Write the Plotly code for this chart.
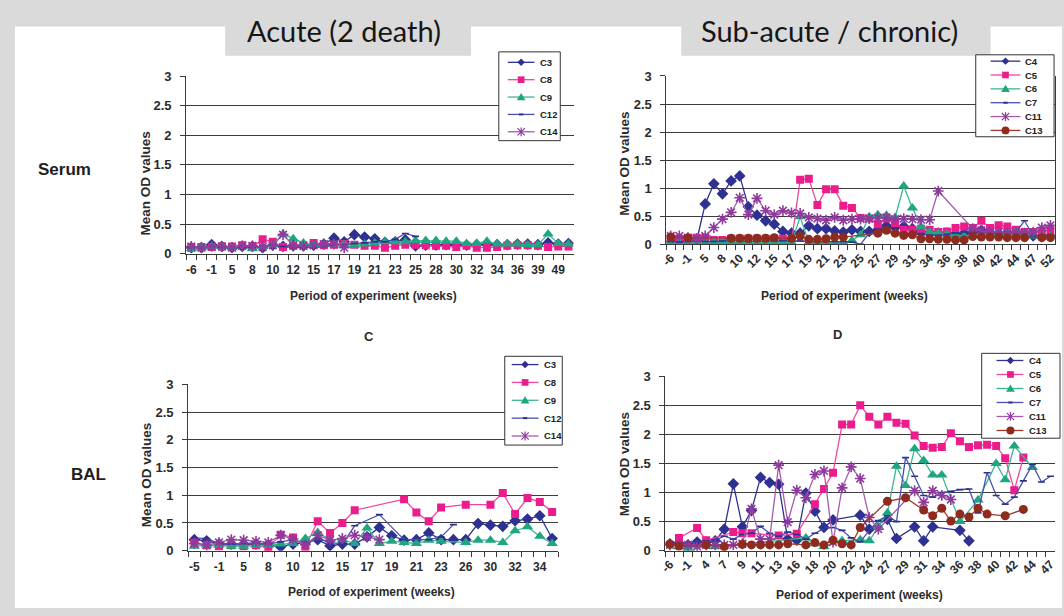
import plotly.graph_objects as go

W, H = 1064, 616

# ---------------- data ----------------
# Acute, serum
weeks_acute_serum = [-6, -3, -1, 2, 5, 7, 8, 9, 10, 11, 12, 13, 15, 16, 17, 18, 19, 20, 21, 22,
                     23, 24, 25, 26, 28, 29, 30, 31, 32, 33, 34, 35, 36, 37, 39, 44, 49, 51]
c3_serum = [0.10, 0.10, 0.15, 0.12, 0.10, 0.12, 0.12, 0.10, 0.14, 0.12, 0.13, 0.13, 0.14, 0.16, 0.26,
            0.20, 0.32, 0.28, 0.25, 0.19, 0.20, 0.23, 0.13, 0.14, 0.14, 0.15, 0.15, 0.14, 0.15, 0.15,
            0.15, 0.15, 0.16, 0.16, 0.15, 0.18, 0.16, 0.17]
c8_serum = [0.10, 0.11, 0.11, 0.12, 0.12, 0.14, 0.12, 0.24, 0.20, 0.11, 0.13, 0.14, 0.18, 0.14, 0.15,
            0.16, 0.15, 0.13, 0.13, 0.10, 0.13, 0.15, 0.15, 0.14, 0.13, 0.13, 0.11, 0.13, 0.10, 0.10,
            0.11, 0.13, 0.14, 0.14, 0.13, 0.11, 0.12, 0.12]
c9_serum = [0.08, 0.10, 0.12, 0.12, 0.10, 0.12, 0.08, 0.12, 0.15, 0.33, 0.25, 0.18, 0.14, 0.15, 0.16,
            0.15, 0.14, 0.16, 0.18, 0.20, 0.20, 0.20, 0.22, 0.22, 0.22, 0.21, 0.21, 0.17, 0.17, 0.21,
            0.16, 0.16, 0.16, 0.15, 0.15, 0.33, 0.17, 0.16]
c12_serum = [0.10, 0.10, 0.12, 0.10, 0.10, 0.10, 0.10, 0.12, 0.14, 0.12, 0.10, 0.10, 0.10, 0.12, 0.14,
             0.15, 0.17, 0.18, 0.20, 0.20, 0.24, 0.34, 0.29, None, None, None, None, None, None, None,
             None, None, None, None, None, None, None, None]
c14_serum = [0.12, 0.10, 0.12, 0.12, 0.10, 0.13, 0.13, 0.11, 0.14, 0.32, 0.14, 0.13, 0.14, 0.16, 0.16,
             0.10, None, None, None, None, None, None, None, None, None, None, None, None, None, None,
             None, None, None, None, None, None, None, None]

# Sub-acute / chronic, serum
weeks_chronic_serum = [-6, -3, -1, 2, 5, 7, 8, 9, 10, 11, 12, 13, 15, 16, 17, 18, 19, 20, 21, 22, 23,
                       24, 25, 26, 27, 28, 29, 30, 31, 32, 34, 35, 36, 37, 38, 39, 40, 41, 42, 43, 44,
                       46, 47, 50, 52]
c4_serum = [0.05, 0.05, 0.05, 0.06, 0.72, 1.08, 0.90, 1.13, 1.22, 0.67, 0.52, 0.42, 0.36, 0.23, 0.20,
            0.20, 0.33, 0.28, 0.28, 0.24, 0.22, 0.26, 0.23, 0.23, 0.26, 0.33, 0.30, 0.32, 0.28, 0.22,
            0.20, 0.20, 0.20, 0.18, 0.20, 0.22, 0.25, 0.22, 0.20, 0.20, 0.22, 0.18, 0.15, 0.15, 0.15]
c5_serum = [0.12, 0.10, 0.10, 0.12, 0.12, 0.08, 0.08, 0.10, 0.10, 0.10, 0.10, 0.10, 0.10, 0.10, 0.05,
            1.15, 1.17, 0.70, 0.98, 0.98, 0.69, 0.65, 0.47, 0.46, 0.36, 0.46, 0.38, 0.26, 0.26, 0.28,
            0.26, 0.22, 0.23, 0.29, 0.32, 0.29, 0.42, 0.29, 0.34, 0.32, 0.26, 0.22, 0.22, 0.23, 0.26]
c6_serum = [0.03, 0.03, 0.03, 0.03, 0.03, 0.05, 0.05, 0.05, 0.03, 0.03, 0.03, 0.03, 0.03, 0.03, 0.03,
            0.49, 0.03, 0.03, 0.03, 0.03, 0.03, 0.07, 0.17, 0.49, 0.53, 0.52, 0.48, 1.04, 0.65, 0.32,
            0.22, 0.20, 0.18, 0.16, 0.15, 0.16, 0.18, 0.20, 0.22, 0.20, 0.23, 0.18, 0.15, 0.15, 0.14]
c7_serum = [0.05, 0.04, 0.05, 0.06, 0.05, 0.05, 0.06, 0.07, 0.06, 0.05, 0.06, 0.06, 0.06, 0.07, 0.06,
            0.06, 0.05, 0.05, 0.06, 0.05, 0.05, 0.04, 0.00, 0.20, 0.22, 0.22, 0.20, 0.20, 0.18, 0.18,
            0.16, 0.16, 0.18, 0.20, 0.22, 0.24, 0.22, 0.20, 0.20, 0.20, 0.22, 0.42, 0.15, 0.15, 0.15]
c11_serum = [0.15, 0.15, 0.12, 0.10, 0.15, 0.30, 0.45, 0.57, 0.83, 0.53, 0.82, 0.60, 0.53, 0.60, 0.56,
             0.55, 0.48, 0.46, 0.43, 0.48, 0.43, 0.45, 0.45, 0.46, 0.47, 0.48, 0.45, 0.46, 0.45, 0.44,
             0.44, 0.95, None, None, None, 0.28, 0.25, 0.22, 0.22, 0.20, 0.22, 0.20, 0.22, 0.30, 0.34]
c13_serum = [0.13, None, 0.12, None, None, None, None, 0.11, 0.11, 0.11, 0.11, 0.11, 0.12, None, 0.11,
             0.15, 0.09, 0.09, 0.10, 0.13, 0.13, None, None, None, 0.20, 0.25, 0.20, 0.16, 0.17, 0.10,
             0.10, 0.09, 0.09, 0.08, 0.08, 0.14, 0.13, 0.13, 0.13, 0.12, 0.12, 0.12, None, 0.12, 0.12]

# Acute, BAL
weeks_acute_bal = [-5, -3, -1, 1, 5, 7, 8, 9, 10, 11, 12, 13, 15, 16, 17, 18, 19, 20, 21, 22, 23, 25,
                   26, 28, 30, 31, 32, 33, 34, 36]
c3_bal = [0.20, 0.18, 0.12, 0.12, 0.12, 0.12, 0.10, 0.07, 0.12, 0.15, 0.20, 0.09, 0.12, 0.12, 0.25,
          0.42, 0.27, 0.19, 0.20, 0.32, 0.20, 0.20, 0.20, 0.49, 0.46, 0.44, 0.54, 0.57, 0.63, 0.22]
c8_bal = [0.16, 0.10, 0.08, 0.10, 0.08, 0.10, 0.06, 0.29, 0.24, 0.07, 0.53, 0.32, 0.50, 0.73, None,
          None, None, 0.93, 0.69, 0.53, 0.78, None, 0.83, None, 0.83, 1.04, 0.66, 0.95, 0.88, 0.70]
c9_bal = [0.08, 0.10, 0.10, 0.08, 0.08, 0.10, 0.10, 0.12, 0.13, 0.22, 0.33, 0.20, 0.20, 0.13, 0.41,
          0.13, 0.17, 0.15, 0.13, 0.19, 0.17, None, 0.15, 0.19, 0.19, 0.15, 0.36, 0.43, 0.26, 0.13]
c12_bal = [0.23, 0.22, 0.13, 0.12, 0.13, 0.14, 0.12, 0.16, 0.20, 0.12, 0.22, 0.15, 0.12, 0.45, None,
           0.65, None, 0.20, None, 0.20, 0.25, 0.47, None, None, None, None, None, None, None, None]
c14_bal = [0.13, 0.10, 0.15, 0.20, 0.19, 0.17, 0.15, 0.28, 0.21, 0.11, 0.28, 0.19, 0.22, 0.28, 0.25,
           0.20, None, None, None, None, None, None, None, None, None, None, None, None, None, None]

# Sub-acute / chronic, BAL
weeks_chronic_bal = [-6, -3, -1, 1, 4, 5, 7, 8, 9, 10, 11, 12, 13, 14, 16, 17, 18, 19, 20, 21, 22, 23,
                     24, 25, 27, 28, 29, 30, 31, 32, 34, 35, 36, 37, 38, 39, 40, 41, 42, 43, 44, 45, 47]
c4_bal = [0.12, 0.13, 0.10, 0.15, 0.15, 0.17, 0.37, 1.15, 0.41, 0.69, 1.26, 1.17, 1.14, 0.20, 0.18,
          0.99, 0.68, 0.40, 0.53, None, None, 0.61, 0.37, None, 0.54, 0.21, None, 0.41, 0.17, 0.41,
          None, None, 0.35, 0.17, None, None, None, None, None, None, None, None, None]
c5_bal = [None, 0.22, None, 0.39, 0.18, None, None, 0.32, 0.30, 0.30, None, None, 0.26, None, 0.29,
          None, 0.80, 1.06, 1.34, 2.17, 2.17, 2.50, 2.30, 2.17, 2.30, 2.20, 2.18, 1.98, 1.80, 1.77,
          1.78, 2.02, 1.88, 1.78, 1.81, 1.82, 1.80, 1.59, 1.04, 1.60, None, None, None]
c6_bal = [None, 0.07, 0.04, None, None, 0.07, None, None, None, None, None, None, None, None, None,
          0.22, 0.12, 0.07, None, 0.17, None, 0.19, 0.17, 0.42, 0.65, 1.45, 1.12, 1.75, 1.55, 1.30,
          1.30, None, 0.50, None, 0.87, None, 1.50, 1.22, 1.80, None, 1.43, None, None]
c7_bal = [0.10, 0.12, 0.12, 0.16, 0.17, 0.18, 0.25, 0.20, 0.28, 0.30, 0.42, 0.30, 0.25, 0.32, 0.28,
          0.20, 0.30, 0.38, 0.40, 0.35, 0.22, 0.15, 0.35, 0.52, 0.60, 0.50, 1.60, 1.28, 0.95, 0.92,
          1.00, 1.02, 1.05, 1.06, 0.65, 1.34, 0.95, 0.80, 0.92, 1.20, 1.48, 1.18, 1.28]
c11_bal = [0.10, 0.10, 0.10, 0.07, 0.10, 0.10, 0.10, 0.10, 0.12, 0.72, 0.20, 0.20, 1.47, 0.49, 1.04,
           0.91, 1.31, 1.37, 0.15, 1.08, 1.44, 1.24, 0.57, 0.37, None, None, None, 1.03, 0.83, 1.03,
           0.95, 0.88, None, None, None, None, None, None, None, None, None, None, None]
c13_bal = [0.11, 0.08, None, None, 0.10, None, 0.07, None, 0.11, 0.10, 0.10, 0.10, 0.10, 0.12, None,
           0.10, 0.14, 0.10, 0.18, 0.12, 0.10, 0.40, None, None, 0.85, None, 0.91, None, 0.70, 0.60,
           0.73, 0.51, 0.63, 0.58, 0.73, 0.63, None, 0.60, None, 0.71, None, None, None]

# ---------------- styling ----------------
BG = "#dadada"
AX = "#3a3a3a"
GRID = "#3c3c3c"
TXT = "#2b2b2b"
SANS = "Liberation Sans, Arial, sans-serif"

NAVY = "#2e3192"
PINK = "#ec1c8c"
GREEN = "#1fa57f"
BLUE = "#4a50ad"
PURPLE = "#8e3a9c"
BROWN = "#8e2a1e"

STYLE = {
    "diamond": dict(symbol="diamond", color=NAVY, line=NAVY, size=9),
    "square": dict(symbol="square", color=PINK, line="#f0479e", size=8),
    "triangle": dict(symbol="triangle-up", color=GREEN, line="#3cb890", size=10),
    "dash": dict(symbol="line-ew-open", color=NAVY, line=BLUE, size=5),
    "star": dict(symbol="asterisk-open", color=PURPLE, line="#a45aae", size=9),
    "circle": dict(symbol="circle", color=BROWN, line="#a03a2a", size=9),
}

acute_serum = [("C3", c3_serum, "diamond"), ("C8", c8_serum, "square"), ("C9", c9_serum, "triangle"),
               ("C12", c12_serum, "dash"), ("C14", c14_serum, "star")]
chronic_serum = [("C4", c4_serum, "diamond"), ("C5", c5_serum, "square"), ("C6", c6_serum, "triangle"),
                 ("C7", c7_serum, "dash"), ("C11", c11_serum, "star"), ("C13", c13_serum, "circle")]
acute_bal = [("C3", c3_bal, "diamond"), ("C8", c8_bal, "square"), ("C9", c9_bal, "triangle"),
             ("C12", c12_bal, "dash"), ("C14", c14_bal, "star")]
chronic_bal = [("C4", c4_bal, "diamond"), ("C5", c5_bal, "square"), ("C6", c6_bal, "triangle"),
               ("C7", c7_bal, "dash"), ("C11", c11_bal, "star"), ("C13", c13_bal, "circle")]


def px(x):
    return x / W


def py(y):
    return 1 - y / H


# panel geometry in page pixels: (left, right), (top, bottom)
panels = [
    dict(key="", weeks=weeks_acute_serum, series=acute_serum, xs=(180.7, 571.4), ys=(71.0, 252.7), angle=0),
    dict(key="2", weeks=weeks_chronic_serum, series=chronic_serum, xs=(665.0, 1056.7), ys=(70.7, 243.3), angle=-45),
    dict(key="3", weeks=weeks_acute_bal, series=acute_bal, xs=(182.7, 556.0), ys=(386.7, 557.3), angle=0),
    dict(key="4", weeks=weeks_chronic_bal, series=chronic_bal, xs=(664.0, 1057.0), ys=(378.3, 557.3), angle=-45),
]

fig = go.Figure()
layout = {}

for p in panels:
    k = p["key"]
    cats = [str(w) for w in p["weeks"]]
    for name, vals, st in p["series"]:
        s = STYLE[st]
        open_sym = s["symbol"].endswith("-open")
        fig.add_trace(go.Scatter(
            x=cats, y=vals, name=name, mode="lines+markers", connectgaps=True, showlegend=False,
            xaxis="x" + k, yaxis="y" + k,
            line=dict(color=s["line"], width=1.3),
            marker=dict(symbol=s["symbol"], size=s["size"], color=s["color"],
                        line=dict(width=1.6 if open_sym else 0, color=s["color"])),
        ))
    layout["xaxis" + k] = dict(
        domain=[px(p["xs"][0]), px(p["xs"][1])], anchor="y" + k,
        type="category", categoryorder="array", categoryarray=cats,
        range=[-0.5, len(cats) - 0.5],
        tickmode="linear", tick0=0, dtick=1, ticklabelstep=2, tickson="boundaries",
        ticks="outside", ticklen=5, tickwidth=1, tickcolor=AX,
        showline=True, linecolor=AX, linewidth=1, showgrid=False, zeroline=False,
        tickangle=p["angle"], ticklabelstandoff=5 if p["angle"] == 0 else 1,
        tickfont=dict(family=SANS, size=12, color=TXT, weight="bold"),
    )
    layout["yaxis" + k] = dict(
        domain=[py(p["ys"][1]), py(p["ys"][0])], anchor="x" + k,
        range=[0, 3], tickmode="linear", tick0=0, dtick=0.5,
        showgrid=True, gridcolor=GRID, gridwidth=1, zeroline=False,
        showline=True, linecolor=AX, linewidth=1, mirror=(k == "2"),
        ticks="outside", ticklen=5, tickwidth=1, tickcolor=AX, ticklabelstandoff=6,
        tickfont=dict(family=SANS, size=13, color=TXT, weight="bold"),
    )

shapes = [
    dict(type="rect", xref="paper", yref="paper", x0=px(8), x1=1, y0=0, y1=py(20),
         fillcolor="white", line=dict(width=0), layer="below"),
    dict(type="rect", xref="paper", yref="paper", x0=px(220), x1=px(468), y0=py(50), y1=1,
         fillcolor=BG, line=dict(width=0), layer="below"),
    dict(type="rect", xref="paper", yref="paper", x0=px(680), x1=px(992), y0=py(50), y1=1,
         fillcolor=BG, line=dict(width=0), layer="below"),
]
annotations = []


def text(x, y, s, size, family=SANS, weight="bold", angle=0, xanchor="center", color=TXT):
    annotations.append(dict(x=px(x), y=py(y), xref="paper", yref="paper", text=s, showarrow=False,
                            xanchor=xanchor, yanchor="middle", textangle=angle,
                            font=dict(family=family, size=size, color=color, weight=weight)))


def sample(st, x, y):
    """Legend key: the series marker drawn on its line."""
    s = STYLE[st]
    fill = s["color"]
    out = []
    if st == "diamond":
        r = 3.8
        out.append(dict(type="path", path=f"M {px(x)},{py(y - r)} L {px(x + r)},{py(y)} L {px(x)},{py(y + r)} L {px(x - r)},{py(y)} Z",
                        fillcolor=fill, line=dict(width=0)))
    elif st == "square":
        r = 3.4
        out.append(dict(type="rect", x0=px(x - r), x1=px(x + r), y0=py(y + r), y1=py(y - r),
                        fillcolor=fill, line=dict(width=0)))
    elif st == "triangle":
        out.append(dict(type="path", path=f"M {px(x)},{py(y - 4.2)} L {px(x + 4.4)},{py(y + 3.3)} L {px(x - 4.4)},{py(y + 3.3)} Z",
                        fillcolor=fill, line=dict(width=0)))
    elif st == "dash":
        out.append(dict(type="line", x0=px(x - 2.2), x1=px(x + 2.2), y0=py(y), y1=py(y),
                        line=dict(color=s["color"], width=2)))
    elif st == "star":
        r = 3.7
        out.append(dict(type="path",
                        path=f"M {px(x - r)},{py(y - r)} L {px(x + r)},{py(y + r)} M {px(x - r)},{py(y + r)} L {px(x + r)},{py(y - r)} M {px(x)},{py(y - r - 0.8)} L {px(x)},{py(y + r + 0.8)}",
                        line=dict(color=s["color"], width=1.2)))
    elif st == "circle":
        r = 4.0
        out.append(dict(type="circle", x0=px(x - r), x1=px(x + r), y0=py(y + r), y1=py(y - r),
                        fillcolor=fill, line=dict(width=0)))
    for o in out:
        o.update(xref="paper", yref="paper", layer="above")
    return out


def legend_box(series, box, first_y, step, lx, mx, tx, size):
    x0, x1, y0, y1 = box
    shapes.append(dict(type="rect", xref="paper", yref="paper", x0=px(x0), x1=px(x1), y0=py(y1), y1=py(y0),
                       fillcolor="white", line=dict(color="#333333", width=1), layer="above"))
    for i, (name, _vals, st) in enumerate(series):
        y = first_y + i * step
        shapes.append(dict(type="line", xref="paper", yref="paper", x0=px(lx[0]), x1=px(lx[1]),
                           y0=py(y), y1=py(y), line=dict(color=STYLE[st]["line"], width=1.3), layer="above"))
        shapes.extend(sample(st, mx, y))
        text(tx, y, name, size, xanchor="left", color="#222222")


legend_box(acute_serum, (496, 558, 46, 137), 56.7, 17.8, (505, 532), 518.5, 536, 9.5)
legend_box(chronic_serum, (977, 1056, 49, 133), 55.5, 14.2, (992, 1022), 1007, 1025, 9.5)
legend_box(acute_bal, (502, 560, 358, 449), 366.5, 18.3, (509, 536), 522.5, 540, 9.5)
legend_box(chronic_bal, (983, 1062, 355, 442), 362.3, 14.35, (998, 1025), 1012, 1029, 9.5)

# headings
text(340, 24, "Acute (2 death)", 29, family="Lato, Open Sans, sans-serif", weight="normal", color="#161616")
text(830, 24, "Sub-acute / chronic)", 29, family="Lato, Open Sans, sans-serif", weight="normal", color="#161616")
text(58, 167, "Serum", 17, color="#1e1e1e")
text(82, 479, "BAL", 17, color="#1e1e1e")
text(365, 338, "C", 13)
text(838, 336, "D", 13)

# axis titles
for (x, y) in [(140, 181), (622, 161), (140, 480), (623, 469)]:
    text(x, y, "Mean OD values", 13.5, angle=-90)
for (x, y) in [(370, 296), (845, 296), (368, 600), (860, 603)]:
    text(x, y, "Period of experiment (weeks)", 12)

fig.update_layout(
    width=W, height=H, margin=dict(l=0, r=0, t=0, b=0),
    paper_bgcolor=BG, plot_bgcolor="white", showlegend=False,
    shapes=shapes, annotations=annotations, **layout,
)

fig.write_html("out.html")
